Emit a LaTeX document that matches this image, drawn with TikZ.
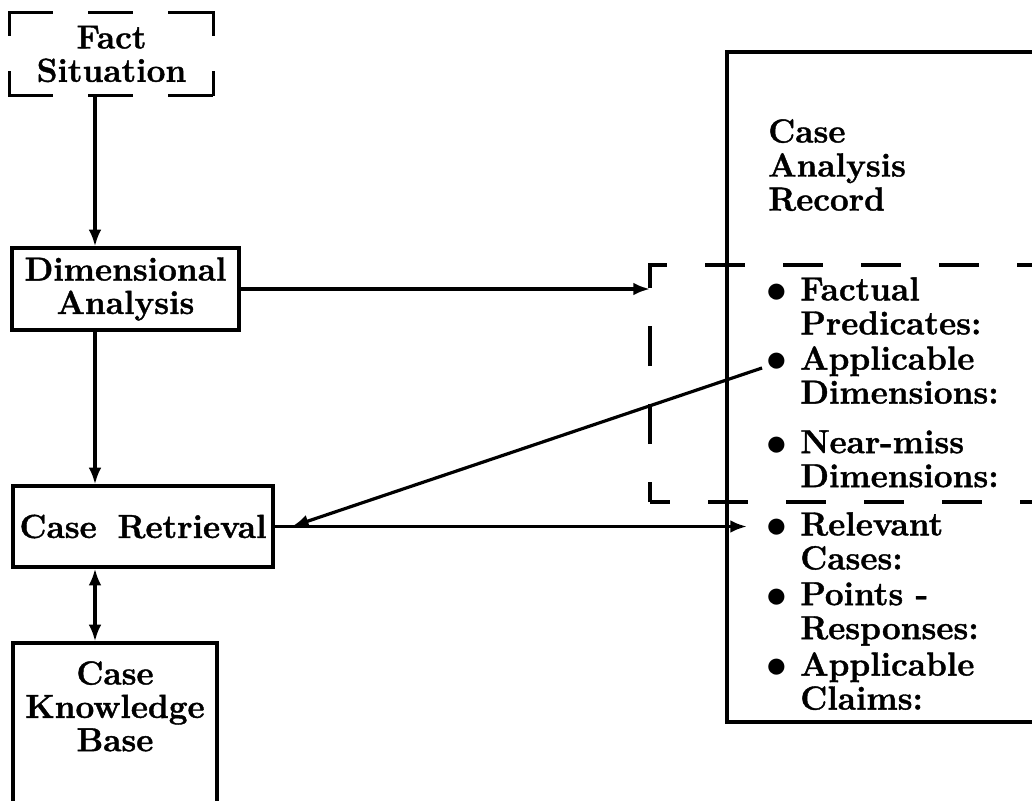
\documentclass[tikz,border=0pt]{standalone}
\usepackage{fontspec}
\setmainfont{lmroman12-regular.otf}[BoldFont=lmroman12-bold.otf, BoldFeatures={FakeBold=1.2}]
\usetikzlibrary{arrows.meta}
\newcommand\itembul{\llap{\raisebox{-0.06em}{\scalebox{1.25}{$\bullet$}}\hspace{0.4em}}}
\begin{document}
\begin{tikzpicture}[x=0.75pt,y=-0.75pt,
  every node/.style={font=\fontsize{25}{25}\selectfont\bfseries, inner sep=0pt},
  boxnode/.style={draw, line width=2.4pt, align=center},
  arr/.style={line width=2.4pt, -{Latex[length=12.5pt,width=9.5pt]}},
  darr/.style={line width=2.4pt, {Latex[length=12.5pt,width=9.5pt]}-{Latex[length=12.5pt,width=9.5pt]}},
  item/.style={anchor=north west, align=left, font=\fontsize{25}{25.5}\selectfont\bfseries},
  hdash/.style={line width=2.4pt, line cap=rect, dash pattern=on 31.5pt off 28.5pt},
  vdash/.style={line width=2.4pt, line cap=rect, dash pattern=on 16.5pt off 28.5pt},
  gdash/.style={line width=2.4pt, dash pattern=on 30pt off 28.5pt, dash phase=15pt},
]
\useasboundingbox (0,0) rectangle (1032,800);

% left column
\node[align=center, minimum width=152.25pt, minimum height=61.5pt] (fs) at (111.5,54) {Fact\\Situation};
\node[boxnode, minimum width=170.25pt, minimum height=61.5pt] (da) at (125.5,289) {Dimensional\\Analysis};
\node[boxnode, minimum width=195pt, minimum height=60.75pt] (cr) at (143,526.5) {Case\hspace{0.25em} Retrieval};
\node[boxnode, minimum width=153pt, minimum height=125.25pt] (ckb) at (115,726.5) {};
\node[align=center, anchor=north] (ckbt) at (115,661) {Case\\Knowledge\\Base};

% dashed Fact Situation frame
\draw[hdash] (fs.north west) -- (fs.north east);
\draw[hdash] (fs.south west) -- (fs.south east);
\draw[vdash] (fs.north west) -- (fs.south west);
\draw[vdash] (fs.north east) -- (fs.south east);

% case analysis record
\node[draw, line width=2.4pt, minimum width=249.75pt, minimum height=502.5pt] (car) at (893.5,387) {};
\node[item] (cart) at (768,119) {Case\\Analysis\\Record};
\node[item] (it1) at (800,277) {\itembul Factual\\Predicates:};
\node[item] (it2) at (800,346) {\itembul Applicable\\Dimensions:};
\node[item] (it3) at (800,430) {\itembul Near-miss\\Dimensions:};
\node[item] (it4) at (800,512) {\itembul Relevant\\Cases:};
\node[item] (it5) at (800,582) {\itembul Points -\\Responses:};
\node[item] (it6) at (800,652) {\itembul Applicable\\Claims:};

% dashed group
\coordinate (dgSW) at (650,502);
\coordinate (dgNW) at (650,265);
\coordinate (dgNE) at (1060,265);
\coordinate (dgSE) at (1060,502);
\draw[gdash] (dgSW) -- (dgNW) -- (dgNE);
\draw[gdash] (dgSW) -- (dgSE);

% connectors
\coordinate (spine) at (95,0);
\coordinate (relin) at (747,526.5);
\coordinate (applin) at (762,368);
\draw[arr] (fs.south -| spine) -- (da.north -| spine);
\draw[arr] (da.south -| spine) -- (cr.north -| spine);
\draw[darr] (cr.south -| spine) -- (ckb.north -| spine);
\draw[arr] (da.east) -- (da.east -| dgSW);
\draw[arr] (cr.east) -- (relin);
\draw[arr] (applin) -- ([xshift=13pt]cr.east);
\end{tikzpicture}
\end{document}
